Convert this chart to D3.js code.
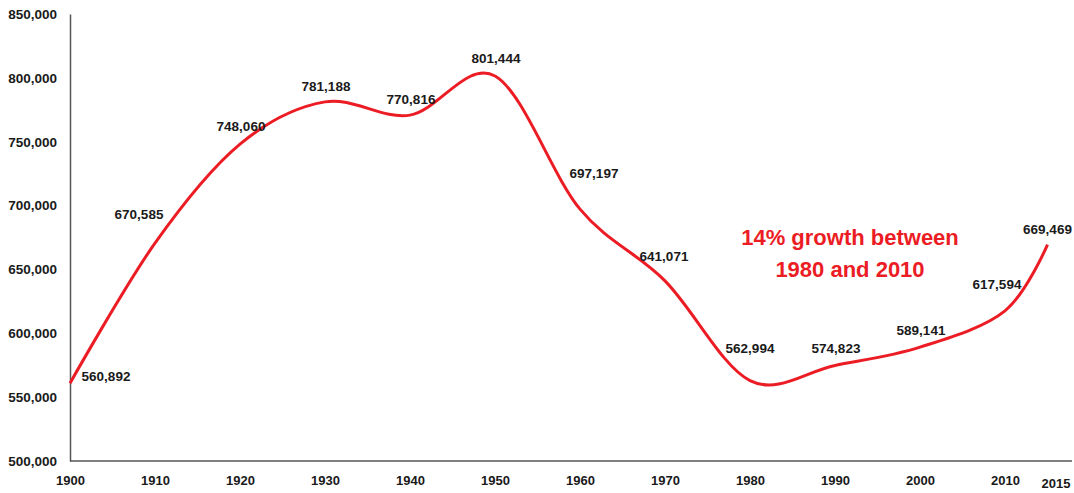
<!DOCTYPE html>
<html><head><meta charset="utf-8">
<script src="https://cdn.jsdelivr.net/npm/d3@7"></script>
<style>html,body{margin:0;padding:0;background:#fff}svg{display:block}</style>
</head><body>
<svg id="c" width="1074" height="493"></svg>
<script>
const years = [1900,1910,1920,1930,1940,1950,1960,1970,1980,1990,2000,2010,2015];
const population = [560892,670585,748060,781188,770816,801444,697197,641071,562994,574823,589141,617594,669469];
const yTicks = [500000,550000,600000,650000,700000,750000,800000,850000];
const xTickLabels = ["1900","1910","1920","1930","1940","1950","1960","1970","1980","1990","2000","2010","2015"];
const annotation = ["14% growth between","1980 and 2010"];
// label offsets (px) relative to the point
const labelDx = [36,-16,1,1,1,1,14,-1,0,1,1,-8,0];
const labelDy = [-7,-29,-18,-16,-16,-18,-36,-25,-32,-17,-17,-27,-15];

const svg = d3.select("#c");
const x = d3.scaleLinear().domain([1900,2015]).range([70,1047.5]);
const y = d3.scaleLinear().domain([500000,850000]).range([461,14]);
const font = "'Liberation Sans', Arial, sans-serif";

// axes
const yAxis = d3.axisLeft(y).tickValues(yTicks).tickSize(0).tickPadding(13).tickFormat(d3.format(","));
const gy = svg.append("g").attr("transform","translate(70,0)").call(yAxis);
gy.select(".domain").attr("stroke","#555").attr("stroke-width",1.5);
gy.selectAll("text").attr("font-family",font).attr("font-weight","bold").attr("font-size",13.5).attr("fill","#1a1a1a");

const xAxis = d3.axisBottom(x).tickValues(years).tickSize(0).tickPadding(15).tickFormat((d,i)=>xTickLabels[i]);
const gx = svg.append("g").attr("transform","translate(0,461)").call(xAxis);
gx.select(".domain").attr("d","M70,0H1072").attr("stroke","#555").attr("stroke-width",1.5);
gx.selectAll("text").attr("font-family",font).attr("font-weight","bold").attr("font-size",13).attr("fill","#1a1a1a");
gx.selectAll(".tick").filter(d=>d===2015).select("text").attr("dx",8).attr("dy","0.9em");

// line
const line = d3.line().x((d,i)=>x(years[i])).y(d=>y(d)).curve(d3.curveCardinal.tension(0));
svg.append("path").datum(population).attr("d",line)
  .attr("fill","none").attr("stroke","#ec1c24").attr("stroke-width",3);

// data labels
svg.append("g").selectAll("text").data(population).join("text")
  .attr("x",(d,i)=>x(years[i])+labelDx[i])
  .attr("y",(d,i)=>y(d)+labelDy[i])
  .attr("dy","0.35em")
  .attr("text-anchor","middle")
  .attr("font-family",font).attr("font-weight","bold").attr("font-size",13.5).attr("fill","#1a1a1a")
  .text(d=>d3.format(",")(d));

// annotation
svg.append("g").selectAll("text").data(annotation).join("text")
  .attr("x",850).attr("y",(d,i)=>237+i*32).attr("dy","0.35em")
  .attr("text-anchor","middle")
  .attr("font-family",font).attr("font-weight","bold").attr("font-size",22).attr("fill","#ec1c24")
  .text(d=>d);
</script>
</body></html>
